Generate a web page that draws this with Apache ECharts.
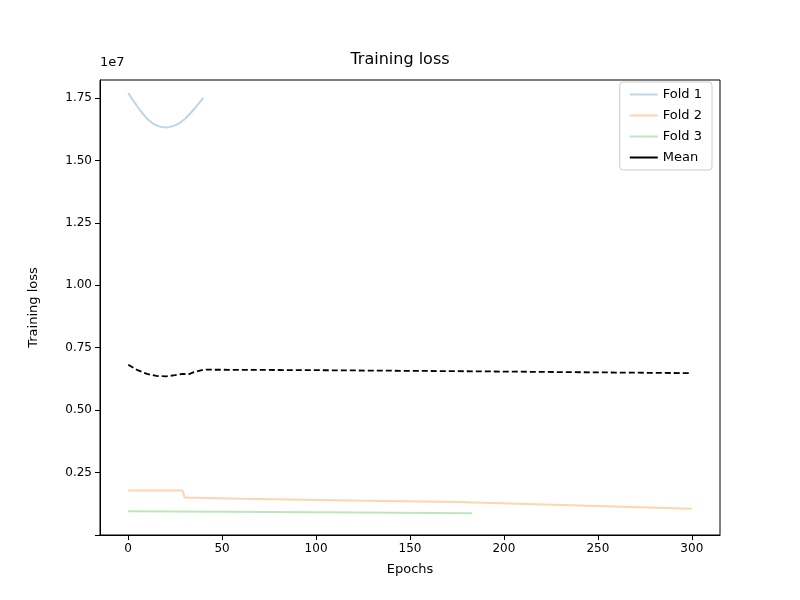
<!DOCTYPE html>
<html><head><meta charset="utf-8">
<script src="https://cdn.jsdelivr.net/npm/echarts@6/dist/echarts.min.js"></script>
<style>html,body{margin:0;background:#fff}#c{width:800px;height:600px}</style>
</head><body><div id="c"></div>
<script>
// values in units of 1e7
var fold1X = [0, 5, 10, 15, 20, 25, 30, 35, 40];
var fold1Y = [1.77, 1.715, 1.668, 1.64, 1.632, 1.64, 1.665, 1.705, 1.75];
var fold2X = [0, 1, 29, 30, 60, 100, 175, 300];
var fold2Y = [0.178, 0.182, 0.178, 0.150, 0.145, 0.140, 0.132, 0.105];
var fold3X = [0, 50, 100, 183];
var fold3Y = [0.095, 0.093, 0.091, 0.087];
var meanX = [0, 5, 10, 15, 20, 25, 29, 30, 32, 35, 40, 100, 175, 300];
var meanY = [0.682, 0.660, 0.645, 0.637, 0.635, 0.640, 0.645, 0.640, 0.643, 0.652, 0.662, 0.660, 0.656, 0.648];
var xTicks = [0, 50, 100, 150, 200, 250, 300];

function pairs(xs, ys){ return xs.map(function(x,i){ return [x, ys[i]]; }); }
var font = 'DejaVu Sans';
var chart = echarts.init(document.getElementById('c'));
chart.setOption({
  animation: false,
  textStyle: {fontFamily: font},
  title: {text: 'Training loss', left: 'center', top: 47, textStyle: {fontFamily: font, fontSize: 16, fontWeight: 'normal', color: '#000'}},
  grid: {left: 100, right: 80, top: 80, bottom: 65, show: true, borderColor: '#000', borderWidth: 1},
  legend: {
    right: 88, top: 82, orient: 'vertical', itemGap: 8, icon: 'rect', itemWidth: 28, itemHeight: 2,
    backgroundColor: '#fff', borderColor: '#ccc', borderWidth: 1, borderRadius: 3, padding: [6, 10],
    textStyle: {fontSize: 13, color: '#000'},
    data: ['Fold 1', 'Fold 2', 'Fold 3', 'Mean']
  },
  graphic: [{type: 'text', left: 100, top: 56, style: {text: '1e7', font: '13px DejaVu Sans', fill: '#000'}}],
  xAxis: {
    type: 'value', min: -15, max: 315,
    name: 'Epochs', nameLocation: 'middle', nameGap: 28, nameTextStyle: {fontSize: 13, color: '#000'},
    axisLine: {onZero: false, lineStyle: {color: '#000'}},
    axisTick: {show: true, customValues: xTicks, lineStyle: {color: '#000'}},
    axisLabel: {color: '#000', fontSize: 12, customValues: xTicks},
    splitLine: {show: false}
  },
  yAxis: {
    type: 'value', min: 0, max: 1.822, interval: 0.25,
    name: 'Training loss', nameLocation: 'middle', nameGap: 60, nameTextStyle: {fontSize: 13, color: '#000'},
    axisLine: {show: true, onZero: false, lineStyle: {color: '#000'}},
    axisTick: {show: true, lineStyle: {color: '#000'}},
    axisLabel: {color: '#000', fontSize: 12, formatter: function(v){ return v === 0 ? '' : v.toFixed(2); }, showMaxLabel: false},
    splitLine: {show: false}
  },
  series: [
    {name: 'Fold 1', type: 'line', smooth: 0.4, symbol: 'none', color: '#bcd6ea', lineStyle: {width: 2}, data: pairs(fold1X, fold1Y)},
    {name: 'Fold 2', type: 'line', symbol: 'none', color: '#ffd4ae', lineStyle: {width: 2}, data: pairs(fold2X, fold2Y)},
    {name: 'Fold 3', type: 'line', symbol: 'none', color: '#bfe5bf', lineStyle: {width: 2}, data: pairs(fold3X, fold3Y)},
    {name: 'Mean', type: 'line', symbol: 'none', color: '#000', lineStyle: {width: 1.8, type: [6, 3]}, data: pairs(meanX, meanY)}
  ]
});
</script></body></html>
